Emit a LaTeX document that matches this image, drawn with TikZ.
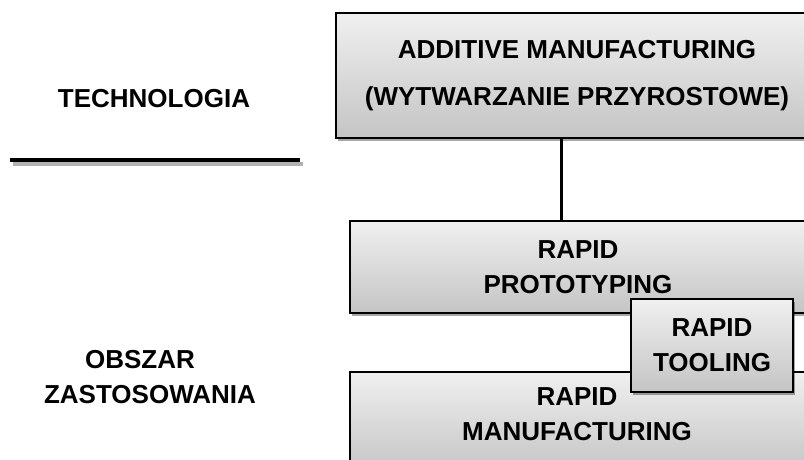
\documentclass[tikz,border=0pt]{standalone}
\usepackage{fontspec}
\setmainfont{Liberation Sans}
\usetikzlibrary{shadows}
\begin{document}
\begin{tikzpicture}[x=1pt,y=-1pt,
  lbl/.style={font=\fontsize{26}{35}\selectfont\bfseries, align=center, inner sep=0pt},
  box/.style={draw=black, line width=1.5pt, rectangle, top color=black!6, bottom color=black!23,
    drop shadow={shadow xshift=2pt, shadow yshift=-3pt, opacity=0.35, fill=black},
    font=\fontsize{26}{35}\selectfont\bfseries, align=center, inner sep=0pt},
  link/.style={line width=3pt, black}
]
\useasboundingbox (0,0) rectangle (804,459);
\clip (0,0) rectangle (804,459);

% left labels
\node[lbl, anchor=base] (tech) at (154,107) {TECHNOLOGIA};
\draw[line width=4pt, black!30] (13,164) -- (303,164);
\draw[line width=4pt, black] (10,160) -- (300,160);
\node[lbl, anchor=base] (obs) at (140,368) {OBSZAR};
\node[lbl, anchor=base] (zast) at (150,403) {ZASTOSOWANIA};

% boxes
\node[box, minimum width=482pt, minimum height=125pt] (am) at (577,75.5)
  {ADDITIVE MANUFACTURING\\[12pt](WYTWARZANIE PRZYROSTOWE)};
\node[box, minimum width=456pt, minimum height=92pt] (rp) at (578,267) {RAPID\\PROTOTYPING};
\node[box, minimum width=456pt, minimum height=100pt] (rm) at (578,422) {};
\node[lbl] (rmt) at (577,414) {RAPID\\MANUFACTURING};
\node[box, minimum width=162pt, minimum height=93pt] (rt) at (712,345.5) {RAPID\\TOOLING};

% connector
\draw[link] ([xshift=-16pt]am.south) -- ([xshift=-17pt]rp.north);
\end{tikzpicture}
\end{document}
